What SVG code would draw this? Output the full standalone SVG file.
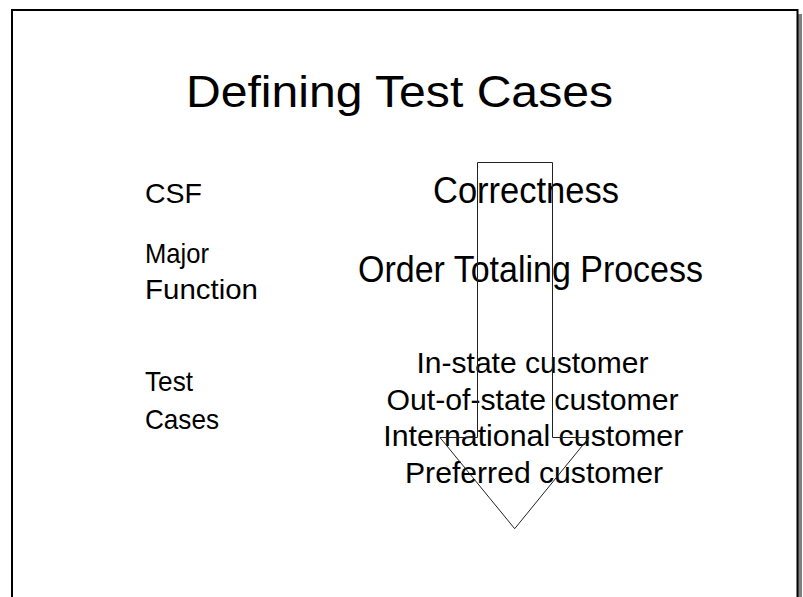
<svg xmlns="http://www.w3.org/2000/svg" width="803" height="597" viewBox="0 0 803 597">
  <style>
    text { font-family: "Liberation Sans", Arial, sans-serif; fill: #000; }
    .title { font-size: 44px; }
    .big { font-size: 36px; }
    .label { font-size: 28px; }
    .case { font-size: 30px; text-anchor: middle; }
    .arrow { fill: none; stroke: #222; stroke-width: 1; }
  </style>
  <rect width="803" height="597" fill="#fff"/>
  <g id="slide-frame">
    <rect x="16" y="14" width="786" height="600" fill="#808080"/>
    <rect x="12" y="10" width="785.5" height="600" fill="#fff" stroke="#000" stroke-width="2"/>
  </g>
  <g id="title">
    <text class="title" x="186" y="107" textLength="427" lengthAdjust="spacingAndGlyphs">Defining Test Cases</text>
  </g>
  <g id="label-csf">
    <text class="label" x="145" y="203" textLength="57" lengthAdjust="spacingAndGlyphs">CSF</text>
  </g>
  <g id="label-major-function">
    <text class="label" x="145" y="263" textLength="64" lengthAdjust="spacingAndGlyphs">Major</text>
    <text class="label" x="145" y="299" textLength="113" lengthAdjust="spacingAndGlyphs">Function</text>
  </g>
  <g id="label-test-cases">
    <text class="label" x="145" y="391" textLength="48" lengthAdjust="spacingAndGlyphs">Test</text>
    <text class="label" x="145" y="429" textLength="74" lengthAdjust="spacingAndGlyphs">Cases</text>
  </g>
  <g id="csf-value">
    <text class="big" x="433" y="203" textLength="186" lengthAdjust="spacingAndGlyphs">Correctness</text>
  </g>
  <g id="function-value">
    <text class="big" x="358" y="282" textLength="345" lengthAdjust="spacingAndGlyphs">Order Totaling Process</text>
  </g>
  <g id="test-cases">
    <text class="case" x="532.5" y="373" textLength="232" lengthAdjust="spacingAndGlyphs">In-state customer</text>
    <text class="case" x="532.5" y="409.5" textLength="292" lengthAdjust="spacingAndGlyphs">Out-of-state customer</text>
    <text class="case" x="533.3" y="446" textLength="300" lengthAdjust="spacingAndGlyphs">International customer</text>
    <text class="case" x="534" y="482.5" textLength="258" lengthAdjust="spacingAndGlyphs">Preferred customer</text>
  </g>
  <g id="connectors">
    <path class="arrow" d="M477.5,162.5 H552.5 V437.5 H589 L514.7,528.7 L440,437.5 H477.5 Z"/>
  </g>
</svg>
